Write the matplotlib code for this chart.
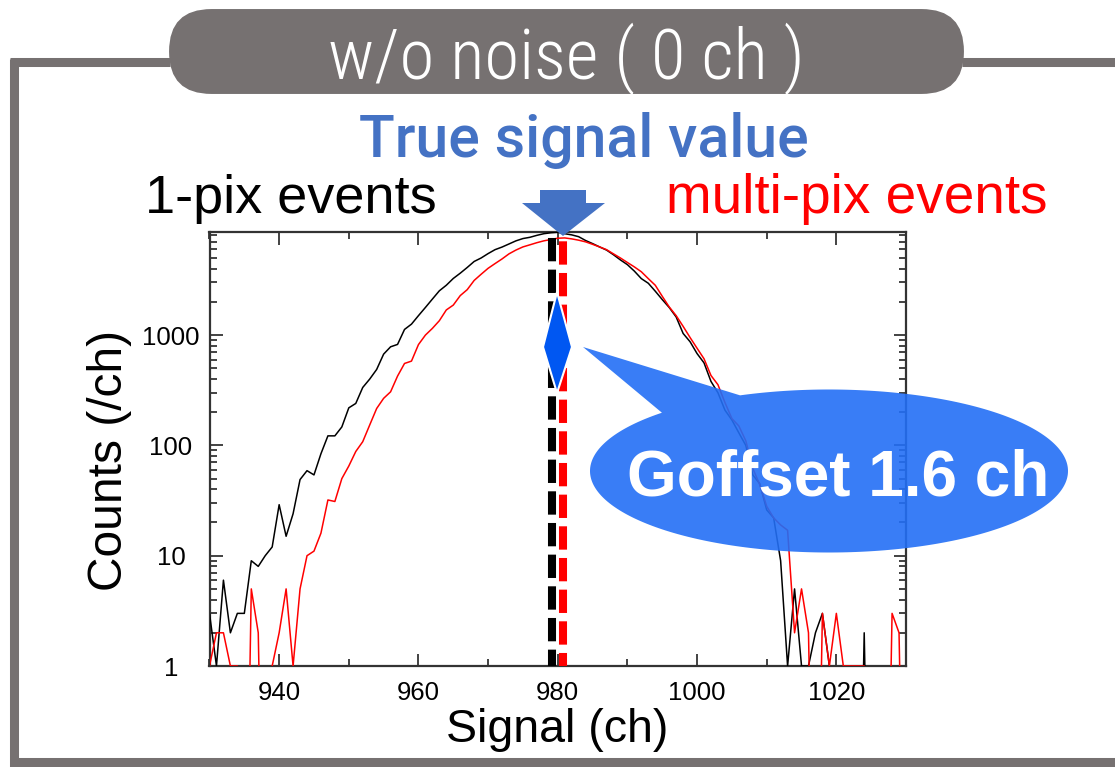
import numpy as np
import matplotlib
matplotlib.use("Agg")
import matplotlib.pyplot as plt
from matplotlib.ticker import MultipleLocator, LogLocator, NullFormatter, FixedFormatter, FixedLocator
from matplotlib.patches import Polygon, FancyBboxPatch

plt.rcParams['font.family'] = ['Liberation Sans', 'DejaVu Sans']
plt.rcParams['lines.scale_dashes'] = False

# ---- data: counts per channel ----
channels = np.arange(930, 1031)

counts_1pix = np.array([
    3, 1, 6, 2, 3, 3, 9, 8, 10, 12,                       # 930-939
    29, 15, 24, 49, 59, 54, 84, 122, 122, 147,            # 940-949
    219, 240, 335, 399, 488, 672, 783, 823, 1125, 1257,   # 950-959
    1500, 1780, 2120, 2520, 2830, 3260, 3640, 4100, 4650, 5000,   # 960-969
    5480, 5950, 6280, 6700, 7150, 7500, 7700, 8020, 8300, 8460,   # 970-979
    8550, 8300, 8100, 7800, 7200, 6750, 6300, 5900, 5350, 4800,   # 980-989
    4350, 3800, 3250, 2950, 2500, 2100, 1780, 1460, 1035, 870,    # 990-999
    680, 560, 380, 300, 209, 170, 130, 100, 54, 45,       # 1000-1009
    26, 22, 9, 1, 5, 1, 1, 2, 3, 1,                       # 1010-1019
    0, 0, 0, 0, 2, 0, 0, 0, 0, 0,                         # 1020-1029
    0])                                                   # 1030

counts_multipix = np.array([
    1, 2, 2, 1, 1, 0, 5, 2, 0, 1,                         # 930-939
    2, 5, 1, 5, 10, 11, 16, 32, 31, 50,                   # 940-949
    65, 88, 108, 153, 216, 267, 306, 425, 553, 581,       # 950-959
    820, 1000, 1150, 1350, 1690, 1870, 2280, 2580, 3130, 3560,    # 960-969
    4030, 4450, 4900, 5450, 5900, 6300, 6580, 6880, 7150, 7350,   # 970-979
    7550, 7600, 7450, 7250, 7000, 6650, 6300, 5950, 5450, 5000,   # 980-989
    4550, 4150, 3750, 3250, 2830, 2250, 1800, 1500, 1200, 950,    # 990-999
    760, 610, 430, 355, 245, 175, 150, 110, 62, 44,       # 1000-1009
    28, 22, 19, 17, 2, 5, 2, 0, 3, 1,                     # 1010-1019
    3, 1, 1, 1, 1, 0, 0, 0, 3, 2,                         # 1020-1029
    0])                                                   # 1030

# fitted peak positions of the two event classes (ch)
peak_1pix = 979.2
goffset = 1.6
peak_multipix = peak_1pix + goffset

x_ticks = [940, 960, 980, 1000, 1020]
y_ticks = [1, 10, 100, 1000]
y_tick_labels = ["1", "10", "100", "1000"]

W, H = 1115, 767
fig = plt.figure(figsize=(W / 100, H / 100), dpi=100)
fig.patch.set_facecolor('white')

ax = fig.add_axes([209.5 / W, 1 - 666 / H, (906 - 209.5) / W, (666 - 232) / H])
ax.set_yscale('log')
ax.set_xlim(930, 1030)
ax.set_ylim(1, 8600)

# empty bins are drawn far below the log floor so the line drops off the frame
def floor_zero(c):
    return np.where(c > 0, c, 1e-3).astype(float)

ax.plot(channels, floor_zero(counts_1pix), color='black', lw=1.1, zorder=3)
ax.plot(channels, floor_zero(counts_multipix), color='#ff0000', lw=1.1, zorder=3)

# peak markers, dashed from the top of the frame downwards
l1 = ax.axvline(peak_1pix, ymin=1, ymax=0, color='black', lw=5.8, zorder=4)
l1.set_linestyle((18.5, (16.8, 6.0)))
l2 = ax.axvline(peak_multipix, ymin=1, ymax=0, color='#ff0000', lw=5.8, zorder=4)
l2.set_linestyle((16.1, (16.8, 6.0)))
for ln in (l1, l2):
    ln.set_dash_capstyle('butt')

ax.xaxis.set_major_locator(FixedLocator(x_ticks))
ax.xaxis.set_minor_locator(MultipleLocator(10))
ax.yaxis.set_major_locator(FixedLocator(y_ticks))
ax.yaxis.set_major_formatter(FixedFormatter(y_tick_labels))
ax.yaxis.set_minor_locator(LogLocator(base=10, subs=np.arange(2, 10)))
ax.yaxis.set_minor_formatter(NullFormatter())

ax.tick_params(which='both', direction='in', top=True, right=True,
               color='#222222', width=1.2)
ax.tick_params(which='major', length=9, labelsize=18.5)
ax.tick_params(axis='x', which='major', pad=11)
ax.tick_params(axis='y', which='major', pad=27.7)
for lab in ax.get_yticklabels():
    lab.set_horizontalalignment('center')
ax.tick_params(which='minor', length=5)
for s in ax.spines.values():
    s.set_linewidth(1.6)
    s.set_color('#333333')

ax.set_xlabel('Signal (ch)', fontsize=33.5)
ax.set_ylabel('Counts (/ch)', fontsize=34.5)
ax.xaxis.set_label_coords((557.5 - 209.5) / (906 - 209.5), -(730 - 666) / (666 - 232))
ax.xaxis.label.set_va('center')
ax.yaxis.set_label_coords(-(209.5 - 109) / (906 - 209.5), (666 - 460) / (666 - 232))
ax.yaxis.label.set_va('center')

# ---- overlay in pixel coordinates ----
ov = fig.add_axes([0, 0, 1, 1], zorder=10)
ov.set_xlim(0, W)
ov.set_ylim(H, 0)
ov.axis('off')
ov.patch.set_alpha(0)

gray = '#767171'
# frame
ov.plot([10, 170], [62, 62], color=gray, lw=6.5, solid_capstyle='butt')
ov.plot([962, W], [62, 62], color=gray, lw=6.5, solid_capstyle='butt')
ov.plot([14, 14], [58.5, 767], color=gray, lw=6.5, solid_capstyle='butt')
ov.plot([10, W], [762, 762], color=gray, lw=6.5, solid_capstyle='butt')

# title pill
pill = FancyBboxPatch((168, 8), 797, 87,
                      boxstyle='round,pad=0,rounding_size=43.5',
                      fc=gray, ec='white', lw=1.5)
ov.add_patch(pill)
ov.text(566.5, 79, 'w/o noise ( 0 ch )', color='white', fontsize=51,
        ha='center', va='baseline', fontstretch='condensed', fontweight='light',
        family=['Roboto Condensed', 'Liberation Sans Narrow', 'DejaVu Sans'])

# annotations
ov.text(584, 157, 'True signal value', color='#4472C4', fontsize=42.5,
        ha='center', va='baseline', fontweight='medium',
        family=['Roboto', 'Liberation Sans', 'DejaVu Sans'])
ov.text(145, 213, '1-pix events', color='black', fontsize=39,
        ha='left', va='baseline')
ov.text(1048, 213, 'multi-pix events', color='#ff0000', fontsize=39.5,
        ha='right', va='baseline')

# downward arrow onto the true value
arrow = Polygon([(540, 190), (586, 190), (586, 203), (605, 203), (563, 236),
                 (522, 203), (540, 203)], closed=True, fc='#4472C4', ec='none')
ov.add_patch(arrow)

# double arrow between the peaks
diamond = Polygon([(557, 292), (572, 347), (557, 393), (543, 347)], closed=True,
                  fc='#0057F2', ec='white', lw=1.5)
ov.add_patch(diamond)

# speech bubble
cx, cy, a, b = 829, 471, 239, 81.5
t1 = np.arctan2(-0.715, -0.699)
t2 = np.arctan2(-0.928, -0.372)
t = np.linspace(t2, t1 + 2 * np.pi, 300)
bx = cx + a * np.cos(t)
by = cy + b * np.sin(t)
pts = list(zip(bx, by)) + [(583, 347)]
bubble = Polygon(pts, closed=True, fc='#236FF5', ec='none', alpha=0.9)
ov.add_patch(bubble)
ov.text(838, 496, 'Goffset 1.6 ch', color='white', fontsize=46,
        fontweight='bold', ha='center', va='baseline')

fig.savefig('out.png', dpi=100)
